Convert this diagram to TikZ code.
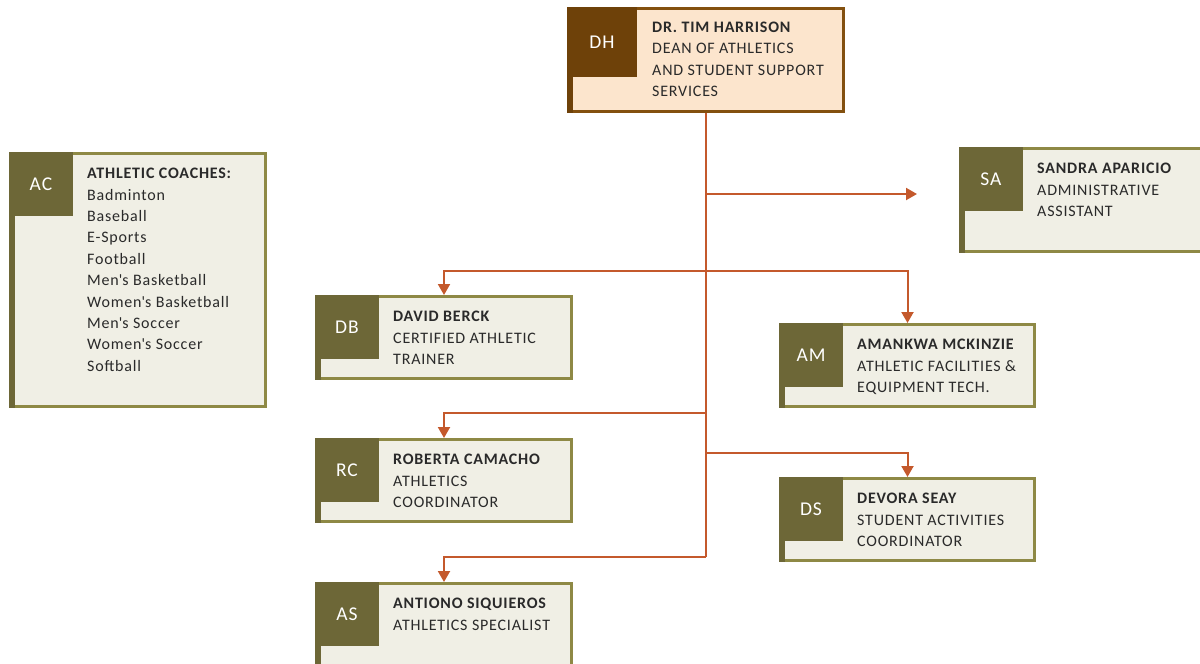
\documentclass[tikz,border=0pt]{standalone}
\usepackage{fontspec}
\setmainfont{Carlito}[LetterSpace=5]
\usetikzlibrary{arrows.meta}
\definecolor{olivetag}{HTML}{6D6737}
\definecolor{olivebord}{HTML}{8E8945}
\definecolor{olivefill}{HTML}{F0EFE5}
\definecolor{dhtag}{HTML}{6E4109}
\definecolor{dhbord}{HTML}{83500F}
\definecolor{dhfill}{HTML}{FCE5CD}
\definecolor{connc}{HTML}{C4592C}
\definecolor{txtc}{HTML}{2A2A2A}
\tikzset{
  boxs/.style={rectangle, draw=olivebord, fill=olivefill, line width=3pt, inner sep=0pt},
  tags/.style={rectangle, fill=olivetag, text=white, inner sep=0pt, outer sep=0pt, minimum size=64pt, font=\fontsize{19.5}{21}\selectfont},
  txts/.style={inner sep=0pt, align=left, text=txtc, font=\fontsize{16}{21.4}\selectfont},
  link/.style={draw=connc, line width=2pt},
  arr/.style={link, -{Triangle[width=12pt,length=11pt]}},
}
\newcommand{\firstline}{\rule{0pt}{15pt}}
\newcommand{\obox}[7]{%
  \node[boxs, minimum width=#4-3, minimum height=#5-3, anchor=north west] (#1) at (#2,#3) {};
  \fill[olivetag] (#2,#3+60) rectangle (#2+6,#3+#5);
  \node[tags, anchor=north west] (#1tag) at (#2,#3) {#6};
  \node[txts, anchor=north west] (#1txt) at (#2+78,#3+11.5) {\firstline #7};
}
\begin{document}
\begin{tikzpicture}[x=1pt,y=-1pt]
\fill[white] (0,0) rectangle (1200,664);
\useasboundingbox (0,0) rectangle (1200,664);
% Dean box
\node[boxs, draw=dhbord, fill=dhfill, minimum width=275, minimum height=103, anchor=north west] (DH) at (567,7) {};
\fill[dhtag] (567,70) rectangle (573,113);
\node[tags, fill=dhtag, minimum size=70pt, anchor=north west] (DHtag) at (567,7) {DH};
\node[txts, anchor=north west] (DHtxt) at (652,17) {\firstline\textbf{DR. TIM HARRISON}\\DEAN OF ATHLETICS\\AND STUDENT SUPPORT\\SERVICES};
% staff boxes
\obox{SA}{959}{147}{250}{106}{SA}{\textbf{SANDRA APARICIO}\\ADMINISTRATIVE\\ASSISTANT}
\obox{AC}{9}{152}{258}{256}{AC}{\textbf{ATHLETIC COACHES:}\\Badminton\\Baseball\\E-Sports\\Football\\Men\textquotesingle s Basketball\\Women\textquotesingle s Basketball\\Men\textquotesingle s Soccer\\Women\textquotesingle s Soccer\\Softball}
\obox{DB}{315}{295}{258}{85}{DB}{\textbf{DAVID BERCK}\\CERTIFIED ATHLETIC\\TRAINER}
\obox{AM}{779}{323}{257}{85}{AM}{\textbf{AMANKWA MCKINZIE}\\ATHLETIC FACILITIES \&\\EQUIPMENT TECH.}
\obox{RC}{315}{438}{258}{85}{RC}{\textbf{ROBERTA CAMACHO}\\ATHLETICS\\COORDINATOR}
\obox{DS}{779}{477}{257}{85}{DS}{\textbf{DEVORA SEAY}\\STUDENT ACTIVITIES\\COORDINATOR}
\obox{AS}{315}{582}{258}{85}{AS}{\textbf{ANTIONO SIQUIEROS}\\ATHLETICS SPECIALIST}
% connectors
\coordinate (j0) at (706,194);
\coordinate (j1) at (706,271);
\coordinate (j2) at (706,413);
\coordinate (j3) at (706,453);
\coordinate (j4) at (706,557);
\coordinate (saend) at (917,194);
\draw[link] (DH.south) -- (j4);
\draw[arr] (j0) -- (saend);
\draw[arr] (j1) -| (DB.north);
\draw[arr] (j1) -| (AM.north);
\draw[arr] (j2) -| (RC.north);
\draw[arr] (j3) -| (DS.north);
\draw[arr] (j4) -| (AS.north);
\end{tikzpicture}
\end{document}
